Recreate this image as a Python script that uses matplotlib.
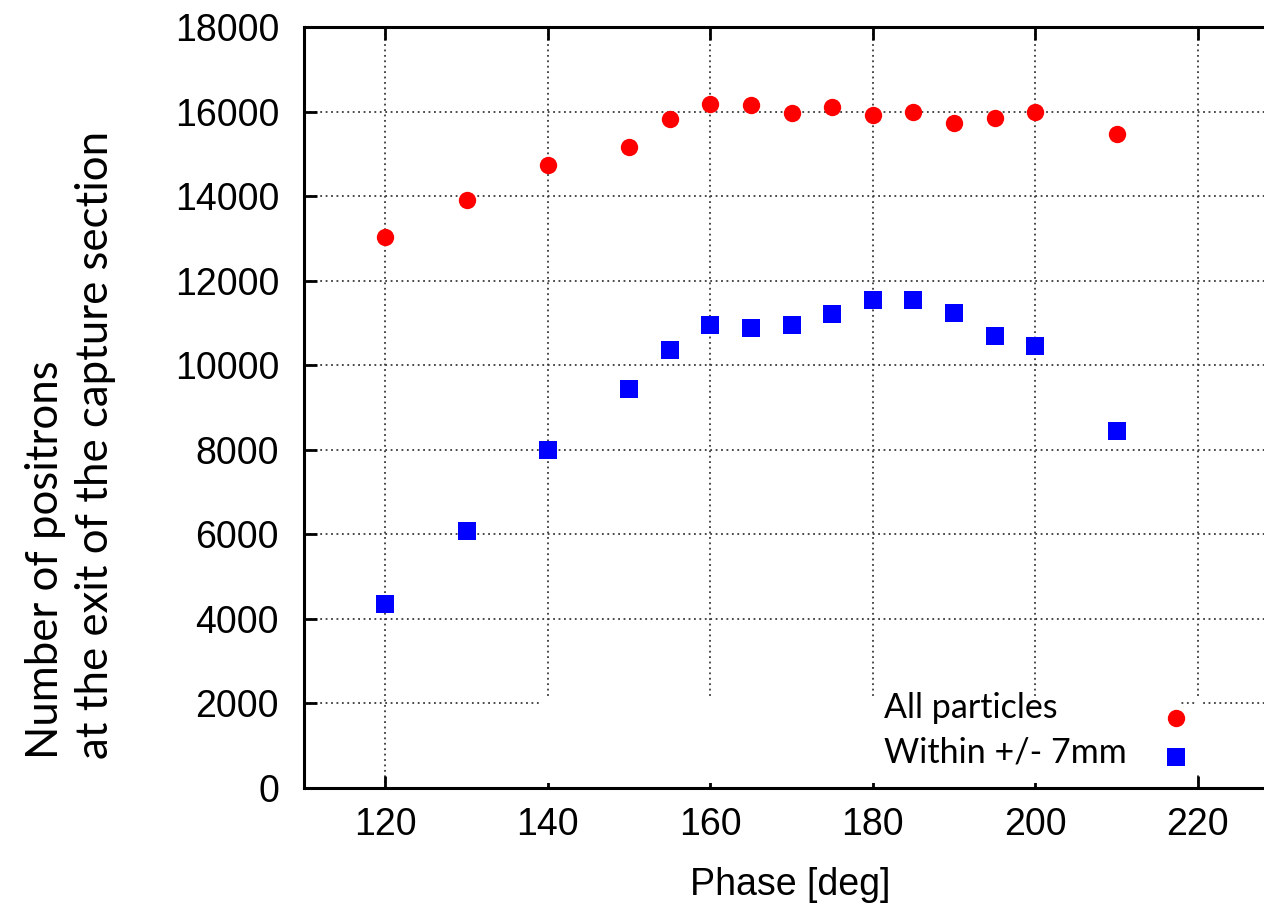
import matplotlib
matplotlib.use("Agg")
import matplotlib.pyplot as plt
from matplotlib.patches import Rectangle

# Phase scan of the capture section
phase_deg = [120, 130, 140, 150, 155, 160, 165, 170, 175, 180, 185, 190, 195, 200, 210]
all_particles = [13040, 13910, 14740, 15160, 15830, 16170, 16160, 15960, 16100,
                 15920, 15990, 15740, 15840, 15990, 15470]
within_7mm = [4360, 6080, 7990, 9440, 10350, 10950, 10880, 10960, 11200,
              11550, 11540, 11240, 10690, 10450, 8440]

x_ticks = [120, 140, 160, 180, 200, 220]
y_ticks = list(range(0, 18001, 2000))

W, H = 1264, 907
TICK_FONT = ["Liberation Sans", "DejaVu Sans"]
TEXT_FONT = ["Lato", "DejaVu Sans"]


def fx(px):
    return px / W


def fy(py):
    return (H - py) / H


fig = plt.figure(figsize=(W / 100, H / 100), dpi=100, facecolor="white")
# plot frame runs off the right edge of the figure
ax = fig.add_axes((fx(304), fy(788), 975 / W, 761 / H))
ax.set_xlim(110, 230)
ax.set_ylim(0, 18000)
ax.set_xticks(x_ticks)
ax.set_yticks(y_ticks)

for side in ("left", "bottom", "top", "right"):
    ax.spines[side].set_linewidth(2.2)
ax.tick_params(direction="in", length=9, width=2, top=True, right=False,
               labelsize=27)
ax.tick_params(axis="y", pad=18)
ax.tick_params(axis="x", pad=14)
for lab in ax.get_xticklabels() + ax.get_yticklabels():
    lab.set_family(TICK_FONT)

ax.set_axisbelow(True)
ax.grid(True, color="#3a3a3a", linestyle=(0, (1, 2)), linewidth=1.3)

# key area blanks out the grid behind it
ax.add_patch(Rectangle((139.2, 120), 217.6 - 139.2, 2150 - 120,
                       facecolor="white", edgecolor="none", zorder=0.8))
ax.add_patch(Rectangle((219.6, 300), 0.8, 2150 - 300,
                       facecolor="white", edgecolor="none", zorder=0.8))

ax.plot(phase_deg, all_particles, linestyle="none", marker="o", markersize=12.5,
        color="#FF0000", markeredgewidth=0, zorder=3)
ax.plot(phase_deg, within_7mm, linestyle="none", marker="s", markersize=13,
        color="#0000FF", markeredgewidth=0, zorder=3)

# key
fig.text(fx(884), fy(718), "All particles", family=TEXT_FONT, fontsize=24.5,
         ha="left", va="baseline")
fig.text(fx(884), fy(763), "Within +/- 7mm", family=TEXT_FONT, fontsize=24.5,
         ha="left", va="baseline")
ax.plot([fx(1176)], [fy(718)], transform=fig.transFigure, clip_on=False,
        marker="o", markersize=12.5, color="#FF0000", markeredgewidth=0)
ax.plot([fx(1176)], [fy(757)], transform=fig.transFigure, clip_on=False,
        marker="s", markersize=13, color="#0000FF", markeredgewidth=0)

fig.text(fx(790), fy(895), "Phase [deg]", family=TICK_FONT, fontsize=27,
         ha="center", va="baseline")
fig.text(fx(46), fy(759), "Number of positrons", family=TEXT_FONT, fontsize=31.5,
         rotation=90, ha="center", va="bottom")
fig.text(fx(96), fy(759), "at the exit of the capture section", family=TEXT_FONT,
         fontsize=31.5, rotation=90, ha="center", va="bottom")

fig.savefig("out.png", dpi=100, facecolor="white")
